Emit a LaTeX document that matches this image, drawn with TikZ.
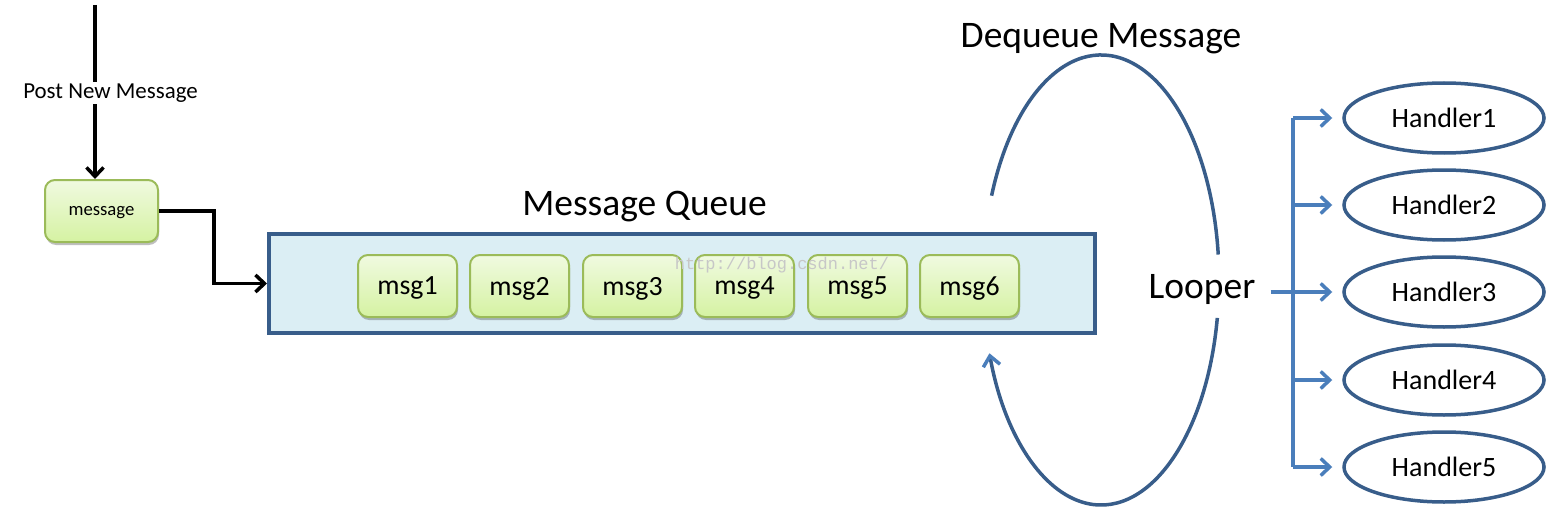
\documentclass[tikz,border=0pt]{standalone}
\usepackage{fontspec}
\setmainfont{Carlito}
\newfontfamily\wmfont{Liberation Mono}
\usetikzlibrary{arrows.meta,shadows,calc,shapes.geometric}
\definecolor{dblue}{RGB}{56,93,138}
\definecolor{lblue}{RGB}{74,126,187}
\definecolor{qfill}{RGB}{219,238,244}
\definecolor{gborder}{RGB}{155,187,89}
\definecolor{gtop}{RGB}{240,250,224}
\definecolor{gbot}{RGB}{213,242,162}
\tikzset{
  greenbox/.style={draw=gborder, line width=2pt, rounded corners=10pt,
    top color=gtop, bottom color=gbot, minimum height=62pt, text depth=0pt,
    drop shadow={shadow xshift=1pt, shadow yshift=-3pt, opacity=0.25, fill=black}},
  msgbox/.style={greenbox, minimum width=99pt, font=\fontsize{27.8}{32}\selectfont},
  blackarrow/.style={line width=3.5pt, black, -{Straight Barb[length=9pt,width=17pt,line width=3.5pt]}},
  handlerarrow/.style={line width=3.5pt, lblue, -{Straight Barb[length=9pt,width=17pt,line width=3.5pt]}},
  handler/.style={ellipse, draw=dblue, line width=3.5pt, minimum width=200pt, minimum height=70pt,
    inner sep=0pt, font=\fontsize{28}{32}\selectfont},
  bigtext/.style={font=\fontsize{37.5}{42}\selectfont, inner sep=0pt},
  loopline/.style={draw=dblue, line width=3.5pt},
}
\begin{document}
\begin{tikzpicture}[x=1pt,y=1pt]
\useasboundingbox (0,0) rectangle (1547,-508);
% post new message
\coordinate (posttop) at (95,-5);
\node[greenbox, minimum width=113pt, font=\fontsize{18.7}{22}\selectfont] (message) at (101.5,-211) {message};
\draw[blackarrow] (posttop) -- (posttop |- message.north);
\node[fill=white, inner sep=2pt, font=\fontsize{22.9}{26}\selectfont] (postlabel) at (110.5,-93) {Post New Message};
% queue
\node[draw=dblue, line width=4pt, fill=qfill, minimum width=826pt, minimum height=99pt, inner sep=0pt] (queue) at (682,-283.5) {};
\node[bigtext] (qlabel) at (644.5,-207) {Message Queue};
\draw[blackarrow] (message.east) -- ++(55,0) |- (queue.west);
\foreach \i/\x in {1/407.5,2/519.5,3/632.5,4/744.5,5/857.5,6/969.5}{
  \node[msgbox] (msg\i) at (\x,-286) {msg\i};
}
% looper
\coordinate (lc) at (1101,-280);
\draw[loopline] ($(lc)+(158:118pt and 225pt)$) arc[start angle=158, end angle=6.5, x radius=118pt, y radius=225pt];
\draw[loopline, -{Straight Barb[length=10pt,width=17pt,line width=3.5pt,color=lblue]}] ($(lc)+(-9.7:118pt and 225pt)$) arc[start angle=-9.7, end angle=-161, x radius=118pt, y radius=225pt];
\node[bigtext] (dequeue) at (1101,-39) {Dequeue Message};
\node[bigtext] (looper) at (1202,-289) {Looper};
% handlers
\foreach \i/\y in {1/118,2/205,3/292,4/380,5/467}{
  \node[handler] (h\i) at (1444,-\y) {Handler\i};
}
\coordinate (bus) at (1293,0);
\draw[line width=3.5pt, lblue] (h1.west -| bus) -- (h5.west -| bus);
\draw[line width=3.5pt, lblue] (looper.east |- h3.west) ++(15,0) coordinate (lstart) -- (h3.west -| bus);
\foreach \i in {1,...,5}{
  \draw[handlerarrow, shorten >=10pt] (h\i.west -| bus) -- (h\i.west);
}
% watermark
\node[text=black!22, font=\wmfont\fontsize{17}{20}\selectfont, inner sep=0pt] (wm) at (782,-265) {http://blog.csdn.net/};
\end{tikzpicture}
\end{document}
